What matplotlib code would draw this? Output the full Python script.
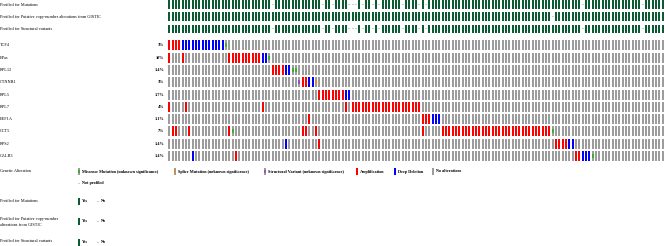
import matplotlib
matplotlib.use("Agg")
import matplotlib.pyplot as plt
from matplotlib.patches import Rectangle

# ---------------- data ----------------
N_CASES = 160
GENES = ["TCF4", "EPas", "RPL12", "CTNNB1", "RPL5", "RPL7", "EEF1A", "CCT5", "RPS2", "CALR3"]
PCTS = ["3%", "10%", "1.4%", "3%", "1.7%", "4%", "1.1%", "7%", "1.4%", "1.4%"]

AMP = [
    [0, 1, 2, 3],
    [0, 4] + list(range(18, 28)),
    [31, 32, 33, 34],
    [40, 41],
    list(range(45, 53)),
    [0, 5, 28, 53] + list(range(55, 76)),
    [42, 76, 77, 78],
    [1, 2, 6, 18, 40, 41, 44, 76] + list(range(82, 115)),
    [45, 116, 117, 118, 119],
    [20, 122, 123],
]
DEL = [
    list(range(4, 17)),
    [28, 29],
    [35, 36],
    [42, 43],
    [53, 54],
    [],
    [79, 80, 81],
    [],
    [35, 120, 121],
    [7, 124, 125, 126],
]
MISSENSE = [[17], [30], [37, 38], [], [], [], [], [19, 115], [], [127]]
SPLICE = [[], [], [], [44], [], [], [], [], [], []]
STRUCT = [[], [], [], [39], [], [], [], [], [], []]

TRACKS = ["Profiled for Mutations",
          "Profiled for Putative copy-number alterations from GISTIC",
          "Profiled for Structural variants"]
NOT_PROFILED = [
    [31, 46, 49, 54, 55, 56, 58, 61, 63, 70, 75, 77, 124, 142],
    [115],
    [31, 46, 49, 54, 55, 56, 58, 61, 63, 70, 75, 77, 124, 142],
]

LEGEND_ITEMS = ["Missense Mutation (unknown significance)", "Splice Mutation (unknown significance)",
                "Structural Variant (unknown significance)", "Amplification", "Deep Deletion",
                "No alterations"]

# ---------------- style ----------------
GRAY = "#9c9c9c"
LIGHT = "#cfcfcf"
GREEN_T = "#0b5c33"
C_AMP = "#ff0000"
C_DEL = "#0000ff"
C_MIS = "#3aae2a"
C_SPL = "#e0862e"
C_SV = "#9b4dd0"
FONT = "Liberation Serif"
FS = 3.1

W, H = 665, 246
fig = plt.figure(figsize=(W / 100, H / 100), dpi=100)
fig.patch.set_facecolor("white")

X0, PITCH = 169.4, 3.333
GRID_LEFT = 160.0
# grid axes: x in case-column units, y in pixels
ax = fig.add_axes([GRID_LEFT / W, 0, 1 - GRID_LEFT / W, 1])
ax.set_xlim((GRID_LEFT - X0) / PITCH, (W - X0) / PITCH)
ax.set_ylim(H, 0)
ax.axis("off")

# label axes: pixel coordinates
lab = fig.add_axes([0, 0, 1, 1])
lab.set_xlim(0, W)
lab.set_ylim(H, 0)
lab.axis("off")
lab.patch.set_alpha(0)

BW = 0.66
cases = list(range(N_CASES))

# top tracks
track_y = [4.5, 16.6, 28.8]
TH = 8.5
for t, yc in enumerate(track_y):
    prof = [c for c in cases if c not in NOT_PROFILED[t]]
    ax.bar(prof, TH, bottom=yc - TH / 2, width=BW, color=GREEN_T, linewidth=0)
    ax.bar(NOT_PROFILED[t], 1.2, bottom=yc - 0.6, width=BW, color=LIGHT, linewidth=0)
    lab.text(0, yc, TRACKS[t], fontsize=FS, family=FONT, va="center", ha="left")

# gene rows
GH = 10
for g, name in enumerate(GENES):
    yc = 45.3 + 12.3 * g
    ax.bar(cases, GH, bottom=yc - GH / 2, width=BW, color=GRAY, linewidth=0)
    ax.bar(AMP[g], GH, bottom=yc - GH / 2, width=BW, color=C_AMP, linewidth=0)
    ax.bar(DEL[g], GH, bottom=yc - GH / 2, width=BW, color=C_DEL, linewidth=0)
    ax.bar(MISSENSE[g], GH * 0.4, bottom=yc - GH * 0.2, width=BW, color=C_MIS, linewidth=0)
    ax.bar(SPLICE[g], GH * 0.4, bottom=yc - GH * 0.2, width=BW, color=C_SPL, linewidth=0)
    ax.bar(STRUCT[g], GH * 0.4, bottom=yc - GH * 0.2, width=BW, color=C_SV, linewidth=0)
    lab.text(0, yc, name, fontsize=FS, family=FONT, va="center", ha="left")
    lab.text(164, yc, PCTS[g], fontsize=FS, family=FONT, va="center", ha="right", fontweight="bold")
ax.set_xlim((GRID_LEFT - X0) / PITCH, (W - X0) / PITCH)
ax.set_ylim(H, 0)

# legend
def glyph(x, y, inner=None, full=None, h=7):
    base = full if full else GRAY
    lab.add_patch(Rectangle((x, y - h / 2), 2.2, h, color=base, linewidth=0))
    if inner:
        lab.add_patch(Rectangle((x, y - h * 0.2), 2.2, h * 0.4, color=inner, linewidth=0))

ly = 171.5
lab.text(0, ly, "Genetic Alteration", fontsize=FS, family=FONT, va="center", ha="left")
leg_x = [78, 174, 263.5, 356, 394, 432]
leg_style = [dict(inner=C_MIS), dict(inner=C_SPL), dict(inner=C_SV),
             dict(full=C_AMP), dict(full=C_DEL), dict()]
for lx, st, txt in zip(leg_x, leg_style, LEGEND_ITEMS):
    glyph(lx, ly, **st)
    lab.text(lx + 4, ly, txt, fontsize=FS, family=FONT, va="center", ha="left", fontweight="bold")
lab.add_patch(Rectangle((78, 183 - 0.5), 2.2, 1.0, color=LIGHT, linewidth=0))
lab.text(82, 183, "Not profiled", fontsize=FS, family=FONT, va="center", ha="left", fontweight="bold")

prof_rows = [(200.7, ["Profiled for Mutations"], 201.5),
             (219.3, ["Profiled for Putative copy-number", "alterations from GISTIC"], 221.5),
             (240.7, ["Profiled for Structural variants"], 242)]
for ty, lines, gy in prof_rows:
    for i, ln in enumerate(lines):
        lab.text(0, ty + 5.6 * i, ln, fontsize=FS, family=FONT, va="center", ha="left")
    lab.add_patch(Rectangle((78, gy - 3.5), 2.2, 7, color=GREEN_T, linewidth=0))
    lab.text(82, gy, "Yes", fontsize=FS, family=FONT, va="center", ha="left", fontweight="bold")
    lab.add_patch(Rectangle((97, gy - 0.5), 2.2, 1.0, color=LIGHT, linewidth=0))
    lab.text(101, gy, "No", fontsize=FS, family=FONT, va="center", ha="left", fontweight="bold")

fig.savefig("out.png", dpi=100, facecolor="white")
